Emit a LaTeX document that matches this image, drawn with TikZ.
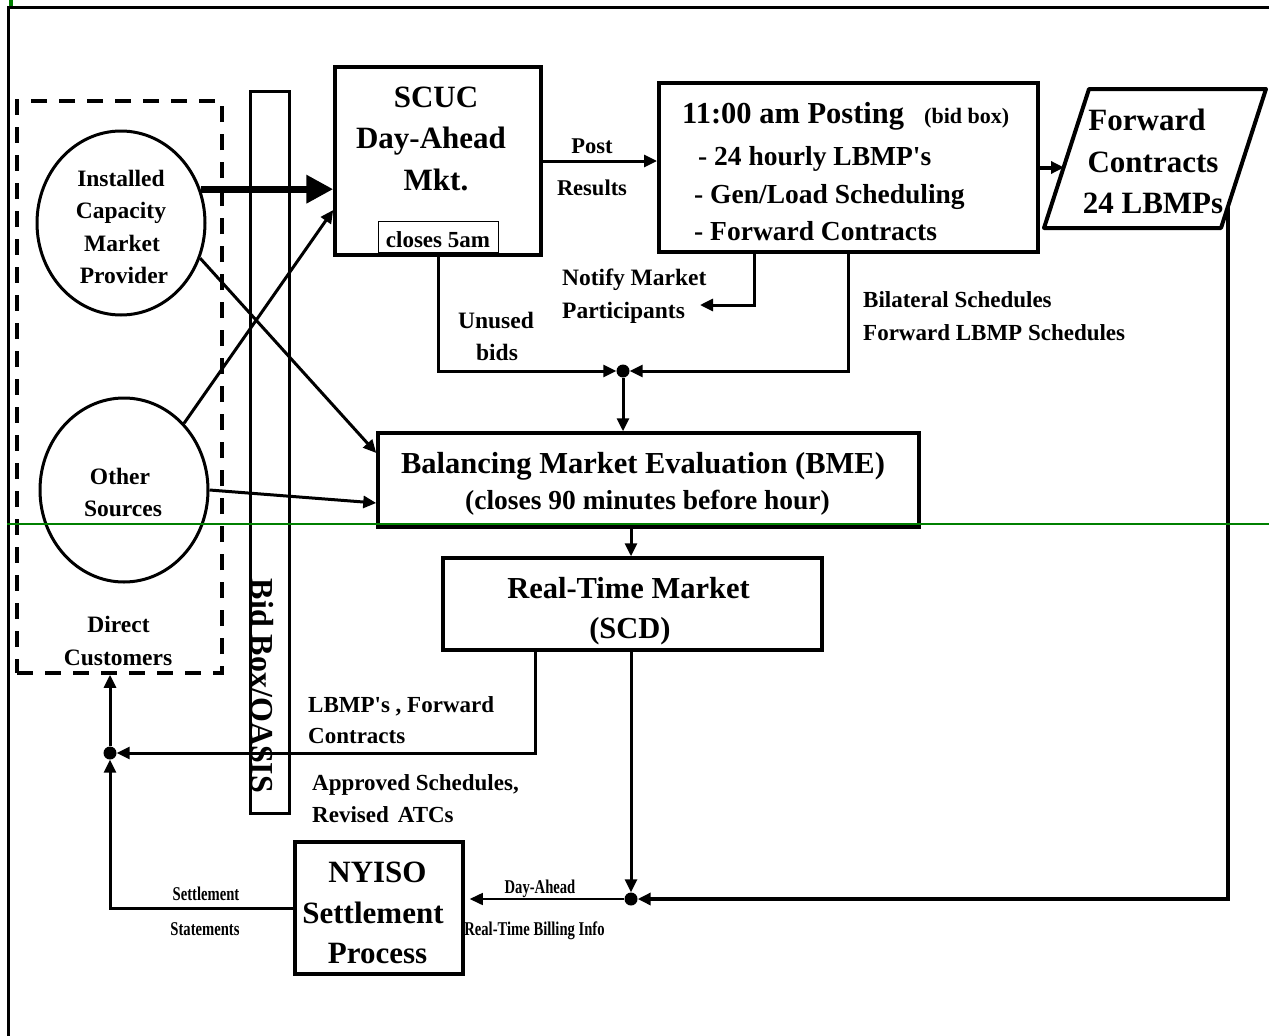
\documentclass[tikz,border=0pt]{standalone}
\usepackage{fontspec}
\setmainfont{Liberation Serif}[Ligatures=TeXOff]
\newfontfamily\condfont{Liberation Serif}[Ligatures=TeXOff,FakeStretch=0.75]
\usetikzlibrary{arrows.meta,shapes.geometric,calc}
\newcommand\fsz[1]{\fontsize{#1}{#1}\selectfont\bfseries}

\begin{document}
\begin{tikzpicture}[x=1pt,y=-1pt,
  box/.style={draw,rectangle,line width=3.5pt,inner sep=0pt},
  oval/.style={draw,ellipse,line width=3pt,inner sep=0pt,minimum width=168pt,minimum height=184pt},
  txt/.style={inner sep=0pt,anchor=base,font=\fsz{#1}},
  ltxt/.style={inner sep=0pt,anchor=base west,font=\fsz{#1}},
  stxt/.style={inner sep=0pt,anchor=base,font=\condfont\fsz{19.5}},
  conn/.style={line width=3pt,-{Triangle[length=13pt,width=12pt]}},
  dot/.style={circle,fill=black,inner sep=0pt,minimum size=13pt},
]
\useasboundingbox (0,0) rectangle (1269,1036);

% ---- boxes -------------------------------------------------------------
\node[box,minimum width=206pt,minimum height=188pt] (scuc) at (438,161) {};
\node[draw,line width=1pt,inner sep=0pt,minimum width=120pt,minimum height=31pt] (close) at (438,236.5) {};
\node[box,line width=4pt,minimum width=379pt,minimum height=169pt] (post) at (848.5,167.5) {};
\node[box,minimum width=541pt,minimum height=94pt] (bme) at (648.5,480) {};
\node[box,minimum width=379pt,minimum height=92pt] (rtm) at (632.5,604) {};
\node[box,minimum width=168pt,minimum height=132pt] (nyiso) at (379,908) {};
\node[draw,line width=3.5pt,dash pattern=on 16pt off 12pt,inner sep=0pt,
      minimum width=205pt,minimum height=572pt] (cust) at (119.5,387) {};
\node[box,line width=3pt,minimum width=39pt,minimum height=722pt] (bar) at (269.5,452) {};
\node[oval] (inst) at (121,223) {};
\node[oval] (oth) at (124,490) {};

% forward contracts parallelogram
\draw[line width=4pt,line join=round] (1089,89) -- (1266,89) -- (1221,228) -- (1044,228) -- cycle;
\coordinate (fc-in) at (1064,167.5);
\coordinate (fc-out) at (1228,206);

% junction dots
\node[dot] (d1) at (623,371) {};
\node[dot] (d2) at (631,899) {};
\node[dot] (d3) at (110,753) {};
\coordinate (n-tip) at (700,305);

% ---- texts -------------------------------------------------------------
\node[txt=31] (t-scuc1) at (436,107) {SCUC};
\node[txt=31] (t-scuc2) at (431,148) {Day-Ahead};
\node[txt=31] (t-scuc3) at (436,190) {Mkt.};
\node[txt=23] (t-close) at (438,247) {closes 5am};

\node[txt=22.5] (t-post) at (592,153) {Post};
\node[txt=22.5] (t-res) at (592,195) {Results};

\node[ltxt=30.5] (t-p1) at (682,123) {11:00 am Posting};
\node[ltxt=22] (t-p1b) at (924,123) {(bid box)};
\node[ltxt=27.5] (t-p2) at (698,165) {- 24 hourly LBMP's};
\node[ltxt=27.5] (t-p3) at (694,203) {- Gen/Load Scheduling};
\node[ltxt=27.5] (t-p4) at (694,240) {- Forward Contracts};

\node[txt=31] (t-fc1) at (1147,130) {Forward};
\node[txt=31] (t-fc2) at (1153,172) {Contracts};
\node[txt=31] (t-fc3) at (1153,213) {24 LBMPs};

\node[ltxt=23.5] (t-not1) at (562,285) {Notify Market};
\node[ltxt=23.5] (t-not2) at (562,318) {Participants};
\node[txt=23.5] (t-un1) at (496,328) {Unused};
\node[txt=23.5] (t-un2) at (497,360) {bids};
\node[ltxt=23] (t-bil1) at (863,307) {Bilateral Schedules};
\node[ltxt=23] (t-bil2) at (863,340) {Forward LBMP Schedules};

\node[txt=30.5] (t-bme1) at (643,473) {Balancing Market Evaluation (BME)};
\node[txt=27.5] (t-bme2) at (647.5,509) {(closes 90 minutes before hour)};
\node[txt=30.5] (t-rtm1) at (628.5,598) {Real-Time Market};
\node[txt=30.5] (t-rtm2) at (630,638) {(SCD)};

\node[txt=23.5] (t-in1) at (121,186) {Installed};
\node[txt=23.5] (t-in2) at (121,218) {Capacity};
\node[txt=23.5] (t-in3) at (122,251) {Market};
\node[txt=23.5] (t-in4) at (124,283) {Provider};
\node[txt=23.5] (t-ot1) at (120,484) {Other};
\node[txt=23.5] (t-ot2) at (123,516) {Sources};
\node[txt=23.5] (t-dc1) at (118.5,632) {Direct};
\node[txt=23.5] (t-dc2) at (118,665) {Customers};

\node[inner sep=0pt,anchor=base,rotate=-90,font=\fsz{32}] (t-bid) at (251,686) {Bid Box/OASIS};

\node[ltxt=23] (t-lb1) at (308,712) {LBMP's , Forward};
\node[ltxt=23] (t-lb2) at (308,743) {Contracts};
\node[ltxt=23] (t-ap1) at (312,790) {Approved Schedules,};
\node[ltxt=23] (t-ap2) at (312,822) {Revised\hspace{9pt}ATCs};

\node[txt=31] (t-ny1) at (377.5,882) {NYISO};
\node[txt=31] (t-ny2) at (373,923) {Settlement};
\node[txt=31] (t-ny3) at (377.5,963) {Process};

\node[stxt] (t-da) at (540,893) {Day-Ahead};
\node[stxt] (t-rb) at (534.5,935) {Real-Time Billing Info};
\node[stxt] (t-st1) at (206,900) {Settlement};
\node[stxt] (t-st2) at (205,935) {Statements};

% ---- connectors --------------------------------------------------------
\draw[line width=7pt,-{Triangle[length=27pt,width=27pt]}] (inst.23) -- (inst.23 -| scuc.west);
\draw[conn] (oth.48) -- ([yshift=-49pt]scuc.west);
\draw[conn] (inst.-24) -- ([yshift=27pt]bme.west);
\draw[conn] (oth.east) -- ([yshift=-23pt]bme.west);

\draw[conn] (scuc.east) -- (scuc.east -| post.west);
\draw[conn,line width=4pt] (post.east) -- (fc-in);
\draw[conn] ([xshift=-94.5pt]post.south) |- (n-tip);
\draw[conn] (post.south) |- (d1);
\draw[conn] (scuc.south) |- (d1);
\draw[conn] (d1) -- (d1 |- bme.north);
\draw[conn] (bme.south -| d2) -- (rtm.north -| d2);
\draw[conn] (rtm.south -| d2) -- (d2);
\draw[conn] ([xshift=-97.5pt]rtm.south) |- (d3);
\draw[conn] (d3) -- (d3 |- cust.south);
\draw[conn] (nyiso.west) -| (d3);
\draw[line width=1.5pt,-{Triangle[length=13pt,width=12pt]},shorten >=5pt] (d2) -- (d2 -| nyiso.east);
\draw[conn,line width=4pt] (fc-out) |- (d2);

% ---- frame and guide line ---------------------------------------------
\draw[line width=3pt] (8,1036) -- (8,7) -- (1269,7);
\draw[green!50!black,line width=2pt] (7,524) -- (1269,524);
\fill[green!50!black] (9,0) rectangle (13,6);
\end{tikzpicture}
\end{document}
